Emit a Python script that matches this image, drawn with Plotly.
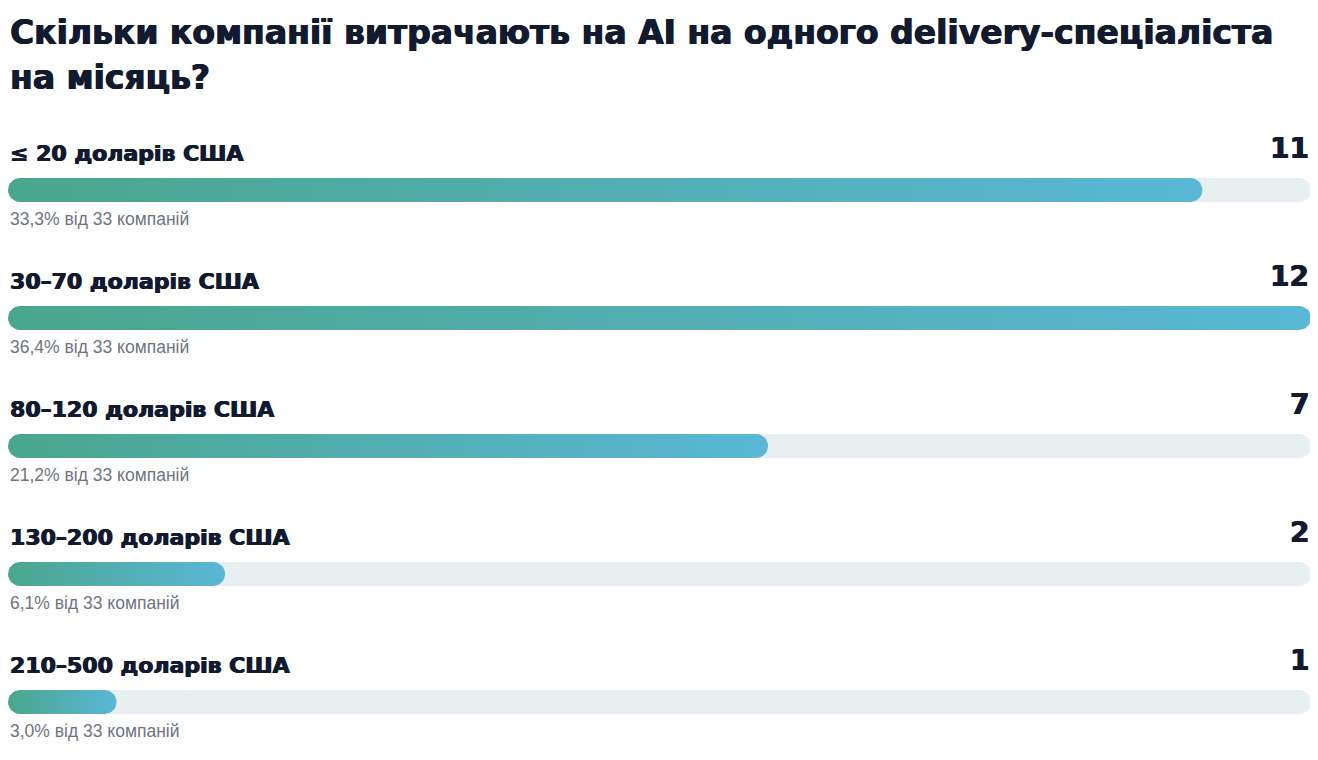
import math
import plotly.graph_objects as go

categories = ["≤ 20 доларів США", "30–70 доларів США", "80–120 доларів США",
              "130–200 доларів США", "210–500 доларів США"]
counts = [11, 12, 7, 2, 1]
shares = ["33,3%", "36,4%", "21,2%", "6,1%", "3,0%"]
total = 33
title_lines = ["Скільки компанії витрачають на AI на одного delivery-спеціаліста",
               "на місяць?"]

# page has an 8px body margin, so the figure is a bit smaller than the window
W, H = 1310, 752
OFF = 8
ML, MR = 0, 7
xmax = max(counts)
px_per_unit = (W - ML - MR) / xmax
radius = 12  # px
row_top = 190 - OFF
row_step = 128

dark = "#111a2e"
heavy = "DejaVu Sans"
fatten = "0.6px 0 0 #111a2e, -0.6px 0 0 #111a2e"


def pill(x0, x1, yc, r=radius, n=16):
    # rounded bar outline, x in value units, y in pixels
    rx = r / px_per_unit
    xs, ys = [], []
    for i in range(n + 1):
        a = math.pi / 2 + math.pi * i / n
        xs.append(x0 + rx + rx * math.cos(a))
        ys.append(yc - r * math.sin(a))
    for i in range(n + 1):
        a = -math.pi / 2 + math.pi * i / n
        xs.append(x1 - rx + rx * math.cos(a))
        ys.append(yc - r * math.sin(a))
    xs.append(xs[0])
    ys.append(ys[0])
    return xs, ys


fig = go.Figure()
annotations = []
for i, (cat, c, s) in enumerate(zip(categories, counts, shares)):
    yc = row_top + i * row_step
    tx, ty = pill(0, xmax, yc)
    fig.add_trace(go.Scatter(x=tx, y=ty, fill="toself", fillcolor="#e8eff1",
                             line=dict(width=0), mode="lines", hoverinfo="skip"))
    bx, by = pill(0, c, yc)
    fig.add_trace(go.Scatter(
        x=bx, y=by, fill="toself", mode="lines", line=dict(width=0),
        fillgradient=dict(type="horizontal",
                          colorscale=[[0, "#4ba68d"], [1, "#5ab7d6"]]),
        hovertemplate=f"{cat}: {c}<extra></extra>"))
    annotations.append(dict(x=0, y=yc - 37, xref="x", yref="y", text=cat,
                            showarrow=False, xanchor="left", yanchor="middle",
                            font=dict(family=heavy, size=22, color=dark, weight="bold",
                                      shadow=fatten)))
    annotations.append(dict(x=xmax, y=yc - 42, xref="x", yref="y", text=str(c),
                            showarrow=False, xanchor="right", yanchor="middle",
                            font=dict(family=heavy, size=28, color=dark, weight="bold",
                                      shadow=fatten)))
    annotations.append(dict(x=0, y=yc + 29, xref="x", yref="y",
                            text=f"{s} від {total} компаній",
                            showarrow=False, xanchor="left", yanchor="middle",
                            font=dict(family="Liberation Sans", size=17.5, color="#6e7480")))

for j, line in enumerate(title_lines):
    annotations.append(dict(x=0, y=32 - OFF + 45 * j, xref="x", yref="y", text=line,
                            showarrow=False, xanchor="left", yanchor="middle",
                            font=dict(family=heavy, size=33, color=dark, weight="bold",
                                      shadow=fatten)))

fig.update_layout(
    width=W, height=H,
    margin=dict(l=ML, r=MR, t=0, b=0),
    paper_bgcolor="white", plot_bgcolor="white",
    showlegend=False,
    xaxis=dict(range=[0, xmax], visible=False, fixedrange=True),
    yaxis=dict(range=[H, 0], visible=False, fixedrange=True),
    annotations=annotations,
)

fig.write_html("out.html")
